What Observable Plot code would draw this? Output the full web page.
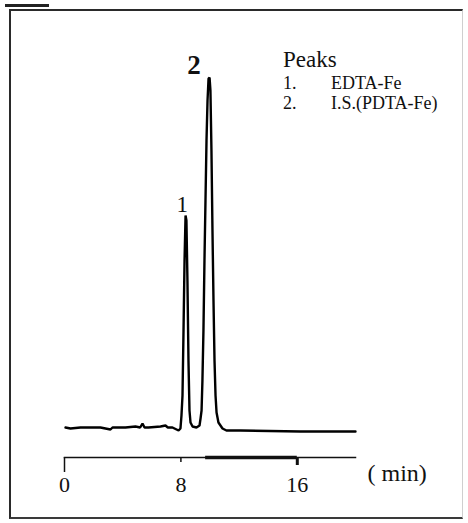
<!DOCTYPE html>
<html>
<head>
<meta charset="utf-8">
<script src="https://cdn.jsdelivr.net/npm/d3@7"></script>
<script src="https://cdn.jsdelivr.net/npm/@observablehq/plot@0.6"></script>
<style>
  html, body { margin: 0; padding: 0; background: #fff; }
  #wrap { position: relative; width: 468px; height: 523px; overflow: hidden; }
  #frame { position: absolute; left: 9px; top: 9px; width: 451px; height: 506px;
           border-top: 2px solid #2a2a2a; border-left: 2px solid #2a2a2a;
           border-bottom: 2px solid #3a3a3a; border-right: 1px solid #cfcfcf; pointer-events: none; }
  #scrap { position: absolute; left: 5px; top: 4px; width: 44px; height: 3px; background: #222; }
</style>
</head>
<body>
<div id="wrap"><div id="scrap"></div><div id="frame"></div></div>
<script>
// Retention time (min) and detector signal (arbitrary units)
const times = [0.07, 0.41, 1.10, 2.47, 3.16, 3.30, 4.19, 4.88, 5.20, 5.36, 5.50, 5.77, 6.60, 6.94, 7.10, 7.42, 7.84, 7.97,
  8.04, 8.11, 8.18, 8.25, 8.32, 8.38, 8.45, 8.52, 8.59, 8.66, 8.80, 9.07, 9.28, 9.35, 9.42, 9.48, 9.55, 9.62, 9.69,
  9.76, 9.83, 9.90, 9.97, 10.03, 10.10, 10.17, 10.24, 10.31, 10.38, 10.45, 10.58, 10.86, 11.13, 12.10, 16.22, 20.0];
const signal = [1, 0, 1, 1, -1, 1, 1, 2, 1, 5, 1, 1, 2, 3, 1, 1, -2, 0,
  13, 33, 98, 168, 213, 208, 148, 68, 18, 6, 2, 1, 3, 10, 18, 48, 98, 168, 228,
  288, 328, 350, 351, 338, 278, 198, 128, 68, 33, 16, 6, 0, -2, -2, -3, -3];

const peakNames = ["1", "2"];
const peakTimes = [8.3, 10.0];
const peakHeights = [213, 351];

const xTicks = [0, 8, 16];
const xUnit = "( min)";
const xDomain = [0, 20];
const yDomain = [-29, 351];
const axisThickSpan = [9.7, 16];

const legendTitle = "Peaks";
const legendNums = ["1.", "2."];
const legendItems = ["EDTA-Fe", "I.S.(PDTA-Fe)"];

const serif = "'Liberation Serif', 'Times New Roman', serif";

const chart = Plot.plot({
  width: 468,
  height: 523,
  marginLeft: 64,
  marginRight: 113,
  marginTop: 77,
  marginBottom: 66,
  style: { background: "transparent", fontFamily: serif, color: "#111" },
  x: { domain: xDomain, axis: null },
  y: { domain: yDomain, axis: null },
  marks: [
    Plot.frame({ anchor: "bottom", stroke: "#111", strokeWidth: 1.5 }),
    Plot.ruleY([yDomain[0]], { x1: axisThickSpan[0], x2: axisThickSpan[1], stroke: "#111", strokeWidth: 3.5 }),
    Plot.axisX([xTicks[0]], { tickSize: 15, strokeWidth: 1.5, tickFormat: () => "", label: null }),
    Plot.axisX([xTicks[1]], { tickSize: 5, strokeWidth: 1.5, tickFormat: () => "", label: null }),
    Plot.axisX([xTicks[2]], { tickSize: 8, strokeWidth: 3, tickFormat: () => "", label: null }),
    Plot.text(xTicks, { x: d => d, y: yDomain[0], dy: 27, text: d => String(d), fontSize: 22, fontFamily: serif, fill: "#111" }),
    Plot.text([xUnit], { frameAnchor: "bottom-right", dx: 12, dy: 23, textAnchor: "start", text: d => d, fontSize: 24, fontFamily: serif, fill: "#111" }),
    Plot.line(signal, { x: times, y: signal, stroke: "#000", strokeWidth: 2.4, strokeLinejoin: "miter" }),
    Plot.text([0], { x: peakTimes[0], y: peakHeights[0], text: [peakNames[0]], dx: -3, dy: -4, lineAnchor: "bottom", fontSize: 23, fontFamily: serif, fill: "#111" }),
    Plot.text([1], { x: peakTimes[1], y: peakHeights[1], text: [peakNames[1]], dx: -16, dy: -4, lineAnchor: "bottom", fontSize: 27, fontWeight: "bold", fontFamily: serif, fill: "#111" })
  ]
});

document.getElementById("wrap").prepend(chart);

// Legend of peak names
const svg = d3.select(chart);
const lg = svg.append("g").attr("font-family", serif).attr("fill", "#111").attr("text-anchor", "start");
lg.append("text").attr("x", 283).attr("y", 67).attr("font-size", 23).text(legendTitle);
legendNums.forEach((n, i) => {
  lg.append("text").attr("x", 283).attr("y", 89 + i * 19.5).attr("font-size", 18).text(n);
  lg.append("text").attr("x", 331).attr("y", 89 + i * 19.5).attr("font-size", 18).text(legendItems[i]);
});
</script>
</body>
</html>
